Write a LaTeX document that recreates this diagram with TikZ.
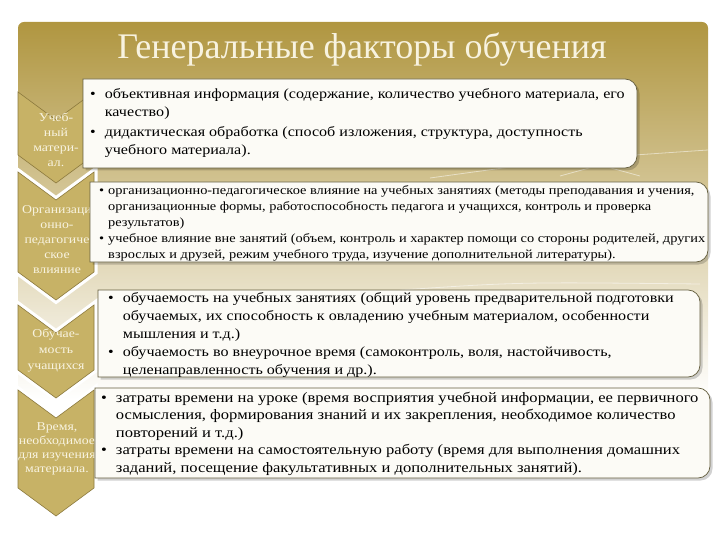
\documentclass[tikz,border=0pt]{standalone}
\usepackage{fontspec}
\setmainfont{Liberation Serif}
\newfontfamily\widefont[FakeStretch=1.15]{Liberation Serif}

\definecolor{gold}{RGB}{199,178,102}
\definecolor{golddark}{RGB}{140,122,62}
\definecolor{panel}{RGB}{176,150,64}
\definecolor{cream}{RGB}{248,243,224}
\definecolor{boxfill}{RGB}{252,251,246}
\definecolor{boxline}{RGB}{100,94,62}

\tikzset{
    chevron/.style={fill=gold, draw=golddark, line width=0.6pt},
    chevronrim/.style={line width=7pt, line join=miter},
    chevtext/.style={text=cream, font=\widefont\fontsize{12}{15}\selectfont, align=center},
    infobox/.style={fill=boxfill, draw=boxline, line width=0.7pt},
    infoshadow/.style={fill=black, opacity=0.18},
    infotext/.style={anchor=base west, inner sep=0pt, text=black},
}

\newcommand{\infoframe}[5][infobox]{%
    \path[#1] (#2,#5) -- (#2,#3) [rounded corners=12pt] -- (#4,#3) -- (#4,#5) [sharp corners] -- (#2,#5) -- cycle;
}

\begin{document}
\begin{tikzpicture}[x=1pt,y=-1pt]
    \useasboundingbox (0,0) rectangle (720,540);

    \shade[top color=panel, bottom color=white, rounded corners=6pt] (18,22) rectangle (708,400);
    \begin{scope}[white, opacity=0.5, line width=0.8pt]
        \draw (430,178) .. controls (560,160) .. (708,150);
        \draw (560,176) -- (600,165) -- (640,176);
        \draw (400,290) .. controls (520,282) .. (700,284);
    \end{scope}

    \node[text=cream, font=\fontsize{36}{40}\selectfont] (title) at (362,50) {Генеральные факторы обучения};

    \foreach \t/\b/\r in {92/155/none, 172/272/white, 305/370/white, 390/488/white}{%
        \draw[chevronrim, draw=\r] (18,\t) -- (56,\t+28) -- (94,\t) -- (94,\b) -- (56,\b+28) -- (18,\b) -- cycle;
        \draw[chevron] (18,\t) -- (56,\t+28) -- (94,\t) -- (94,\b) -- (56,\b+28) -- (18,\b) -- cycle;
    }

    \node[chevtext] (chev1) at (56,140) {Учеб-\\ный\\матери-\\ал.};
    \node[chevtext] (chev2) at (57,240) {Организаци\\онно-\\педагогиче\\ское\\влияние};
    \node[chevtext, font=\widefont\fontsize{12}{16}\selectfont] (chev3) at (56,350) {Обучае-\\мость\\учащихся};
    \node[chevtext, font=\widefont\fontsize{12}{14}\selectfont] (chev4) at (57,449) {Время,\\необходимое\\для изучения\\материала.};

    \begin{scope}[shift={(2.5,2.5)}]
        \infoframe[infoshadow]{83}{79}{637}{168}
        \infoframe[infoshadow]{90}{182}{708}{262}
        \infoframe[infoshadow]{98}{290}{700}{377}
        \infoframe[infoshadow]{95}{388}{710}{478}
    \end{scope}
    \infoframe{83}{79}{637}{168}
    \infoframe{90}{182}{708}{262}
    \infoframe{98}{290}{700}{377}
    \infoframe{95}{388}{710}{478}

    \node[infotext, font=\widefont\fontsize{14}{18}\selectfont] (info1) at (90,99) {%
        \begin{tabular}[t]{@{}l@{\hspace{9pt}}l@{}}
            \textbullet & объективная информация (содержание, количество учебного материала, его\\
                        & качество)\\[2pt]
            \textbullet & дидактическая обработка (способ изложения, структура, доступность\\
                        & учебного материала).
        \end{tabular}};
    \node[infotext, font=\widefont\fontsize{12.5}{16}\selectfont] (info2) at (99,195) {%
        \begin{tabular}[t]{@{}l@{\hspace{4pt}}l@{}}
            \textbullet & организационно-педагогическое влияние на учебных занятиях (методы преподавания и учения,\\
                        & организационные формы, работоспособность педагога и учащихся, контроль и проверка\\
                        & результатов)\\
            \textbullet & учебное влияние вне занятий (объем, контроль и характер помощи со стороны родителей, других\\
                        & взрослых и друзей, режим учебного труда, изучение дополнительной литературы).
        \end{tabular}};
    \node[infotext, font=\widefont\fontsize{14}{18}\selectfont] (info3) at (108,302) {%
        \begin{tabular}[t]{@{}l@{\hspace{9pt}}l@{}}
            \textbullet & обучаемость на учебных занятиях (общий уровень предварительной подготовки\\
                        & обучаемых, их способность к овладению учебным материалом, особенности\\
                        & мышления и т.д.)\\
            \textbullet & обучаемость во внеурочное время (самоконтроль, воля, настойчивость,\\
                        & целенаправленность обучения и др.).
        \end{tabular}};
    \node[infotext, font=\widefont\fontsize{14.4}{17.5}\selectfont] (info4) at (101,402) {%
        \begin{tabular}[t]{@{}l@{\hspace{9pt}}l@{}}
            \textbullet & затраты времени на уроке (время восприятия учебной информации, ее первичного\\
                        & осмысления, формирования знаний и их закрепления, необходимое количество\\
                        & повторений и т.д.)\\
            \textbullet & затраты времени на самостоятельную работу (время для выполнения домашних\\
                        & заданий, посещение факультативных и дополнительных занятий).
        \end{tabular}};
\end{tikzpicture}
\end{document}
